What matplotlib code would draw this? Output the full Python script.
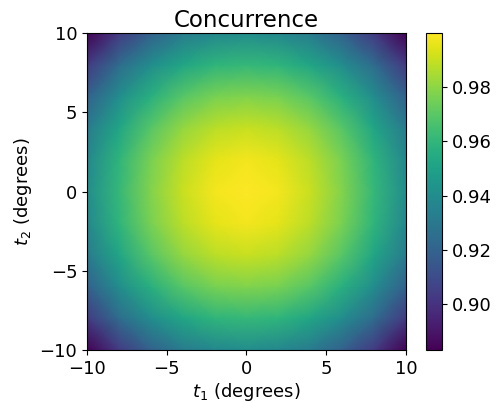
import matplotlib
matplotlib.use("Agg")
import matplotlib.pyplot as plt
import numpy as np

plt.rcParams['font.size'] = 13

# grid of angles (degrees) and concurrence values
t1 = [-10, -8, -6, -4, -2, 0, 2, 4, 6, 8, 10]
t2 = [-10, -8, -6, -4, -2, 0, 2, 4, 6, 8, 10]
row10 = [0.883, 0.903, 0.919, 0.931, 0.937, 0.940, 0.937, 0.931, 0.919, 0.903, 0.883]
row8 = [0.903, 0.924, 0.940, 0.952, 0.959, 0.961, 0.959, 0.952, 0.940, 0.924, 0.903]
row6 = [0.919, 0.940, 0.957, 0.969, 0.976, 0.978, 0.976, 0.969, 0.957, 0.940, 0.919]
row4 = [0.931, 0.952, 0.969, 0.981, 0.988, 0.990, 0.988, 0.981, 0.969, 0.952, 0.931]
row2 = [0.937, 0.959, 0.976, 0.988, 0.995, 0.998, 0.995, 0.988, 0.976, 0.959, 0.937]
row0 = [0.940, 0.961, 0.978, 0.990, 0.998, 1.000, 0.998, 0.990, 0.978, 0.961, 0.940]
concurrence = [row10, row8, row6, row4, row2, row0, row2, row4, row6, row8, row10]

fig = plt.figure(figsize=(4.99, 4.03), dpi=100)
ax = fig.add_axes([0.1743, 0.1315, 0.6393, 0.7866])
cax = fig.add_axes([0.8537, 0.1315, 0.0321, 0.7866])

X, Y = np.meshgrid(t1, t2)
mesh = ax.pcolormesh(X, Y, np.array(concurrence), shading='gouraud', cmap='viridis')
ax.set_xlim(-10, 10)
ax.set_ylim(-10, 10)
ax.set_xticks([-10, -5, 0, 5, 10])
ax.set_yticks([-10, -5, 0, 5, 10])
ax.set_xlabel(r'$t_1$ (degrees)', labelpad=2)
ax.set_ylabel(r'$t_2$ (degrees)')
ax.set_title('Concurrence', fontsize=16.5, pad=4)

cb = fig.colorbar(mesh, cax=cax)
cb.set_ticks([0.90, 0.92, 0.94, 0.96, 0.98])

fig.savefig('out.png', dpi=100)
